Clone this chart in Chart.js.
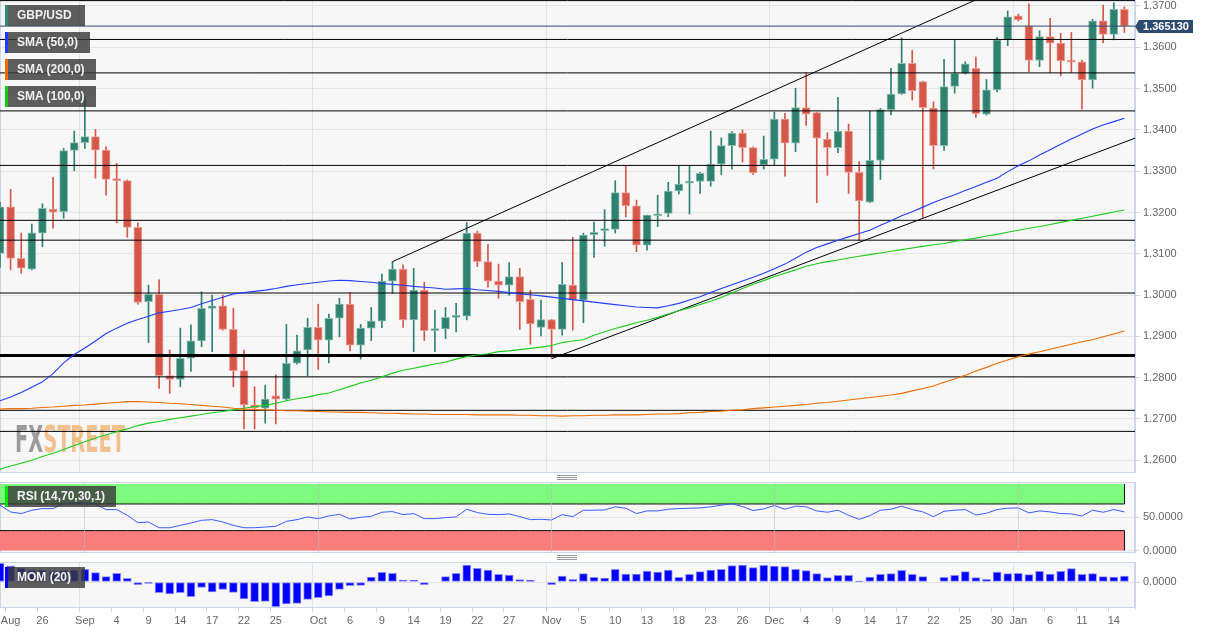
<!DOCTYPE html>
<html>
<head>
<meta charset="utf-8">
<title>GBP/USD daily</title>
<script src="https://cdn.jsdelivr.net/npm/chart.js@4.4.1/dist/chart.umd.min.js"></script>
<style>
html,body{margin:0;padding:0;background:#fff;}
body{position:relative;width:1212px;height:634px;overflow:hidden;font-family:Arial,"Liberation Sans",sans-serif;}
canvas{position:absolute;left:0;}
#main{top:0;} #rsi{top:482px;} #mom{top:562px;}
.tag{position:absolute;left:5px;height:21px;line-height:21px;padding-left:12px;box-sizing:border-box;background:rgba(58,58,58,0.82);color:#f2f2f2;font-size:12px;font-weight:bold;white-space:nowrap;}
.tag b{position:absolute;left:0;top:0;width:3px;height:21px;}
.grip{position:absolute;left:557px;width:20px;height:3px;border-top:1px solid #9a9a9a;border-bottom:1px solid #9a9a9a;}
.grip::after{content:"";position:absolute;left:0;right:0;top:1px;border-top:1px solid #9a9a9a;}
</style>
</head>
<body>
<canvas id="main" width="1212" height="473"></canvas>
<canvas id="rsi" width="1212" height="79"></canvas>
<canvas id="mom" width="1212" height="72"></canvas>
<div class="grip" style="top:475px"></div>
<div class="grip" style="top:555px"></div>
<div class="tag" style="top:5px;width:80px"><b style="background:#2e8b73"></b>GBP/USD</div>
<div class="tag" style="top:32px;width:85px"><b style="background:#1a3cff"></b>SMA (50,0)</div>
<div class="tag" style="top:59px;width:91px"><b style="background:#ef6c00"></b>SMA (200,0)</div>
<div class="tag" style="top:86px;width:91px"><b style="background:#14c814"></b>SMA (100,0)</div>
<div class="tag" style="top:486px;width:111px"><b style="background:#00e600"></b>RSI (14,70,30,1)</div>
<div class="tag" style="top:567px;width:80px"><b style="background:#0000ff"></b>MOM (20)</div>
<script>
// daily candles, 20 Aug 2020 .. 15 Jan 2021 (weekdays)
const opens = [1.3101,1.3214,1.3089,1.3063,1.3150,1.3208,1.3202,1.3350,1.3369,1.3384,
1.3351,1.3280,1.3277,1.3164,1.2984,1.3002,1.2805,1.2796,1.2847,1.2889,
1.2968,1.2974,1.2917,1.2817,1.2734,1.2726,1.2756,1.2748,1.2835,1.2867,
1.2922,1.2891,1.2944,1.2978,1.2879,1.2920,1.2937,1.3034,1.3063,1.2940,
1.3012,1.2914,1.2918,1.2946,1.2949,1.3150,1.3081,1.3034,1.3024,1.3045,
1.2990,1.2922,1.2941,1.2917,1.3024,1.2988,1.3146,1.3156,1.3159,1.3248,
1.3216,1.3121,1.3192,1.3198,1.3252,1.3271,1.3275,1.3275,1.3317,1.3362,
1.3392,1.3357,1.3315,1.3329,1.3426,1.3368,1.3454,1.3442,1.3378,1.3357,
1.3397,1.3297,1.3225,1.3326,1.3449,1.3487,1.3561,1.3517,1.3453,1.3362,
1.3505,1.3537,1.3549,1.3438,1.3497,1.3618,1.3676,1.3652,1.3568,1.3626,
1.3610,1.3567,1.3565,1.3521,1.3664,1.3631,1.3692];
const highs = [1.3225,1.3256,1.3150,1.3172,1.3221,1.3285,1.3355,1.3397,1.3480,1.3401,
1.3359,1.3319,1.3279,1.3175,1.3024,1.3037,1.2867,1.2920,1.2928,1.3008,
1.3000,1.3000,1.2968,1.2867,1.2778,1.2782,1.2807,1.2929,1.2903,1.2944,
1.2978,1.2954,1.2992,1.3006,1.2929,1.2970,1.3051,1.3081,1.3073,1.3065,
1.3031,1.2964,1.2970,1.2980,1.3176,1.3155,1.3123,1.3075,1.3079,1.3065,
1.3012,1.2988,1.2941,1.3079,1.3140,1.3150,1.3177,1.3207,1.3277,1.3314,
1.3230,1.3194,1.3242,1.3273,1.3313,1.3313,1.3297,1.3397,1.3381,1.3396,
1.3400,1.3359,1.3385,1.3443,1.3440,1.3501,1.3539,1.3443,1.3393,1.3479,
1.3414,1.3323,1.3445,1.3452,1.3549,1.3623,1.3593,1.3518,1.3468,1.3571,
1.3618,1.3565,1.3576,1.3522,1.3624,1.3688,1.3680,1.3705,1.3640,1.3670,
1.3634,1.3636,1.3569,1.3668,1.3702,1.3708,1.3698];
const lows = [1.3067,1.3061,1.3053,1.3061,1.3117,1.3162,1.3186,1.3301,1.3355,1.3283,
1.3242,1.3175,1.3140,1.2978,1.2885,1.2774,1.2762,1.2778,1.2815,1.2875,
1.2863,1.2915,1.2778,1.2676,1.2676,1.2690,1.2688,1.2745,1.2833,1.2805,
1.2820,1.2836,1.2899,1.2865,1.2845,1.2890,1.2921,1.3004,1.2922,1.2863,
1.2890,1.2863,1.2895,1.2911,1.2940,1.3069,1.3019,1.2992,1.3000,1.2917,
1.2881,1.2901,1.2848,1.2903,1.2915,1.2933,1.3091,1.3118,1.3150,1.3190,
1.3105,1.3109,1.3166,1.3190,1.3245,1.3196,1.3246,1.3264,1.3292,1.3305,
1.3322,1.3292,1.3305,1.3315,1.3288,1.3347,1.3411,1.3224,1.3290,1.3345,
1.3246,1.3132,1.3224,1.3280,1.3436,1.3486,1.3472,1.3188,1.3305,1.3350,
1.3489,1.3535,1.3430,1.3436,1.3492,1.3604,1.3664,1.3541,1.3553,1.3539,
1.3531,1.3539,1.3450,1.3501,1.3611,1.3618,1.3636];
const closes = [1.3214,1.3089,1.3065,1.3151,1.3210,1.3201,1.3350,1.3369,1.3384,1.3351,
1.3280,1.3277,1.3164,1.2982,1.3002,1.2805,1.2796,1.2847,1.2889,1.2968,
1.2974,1.2917,1.2817,1.2734,1.2727,1.2748,1.2748,1.2835,1.2865,1.2922,
1.2891,1.2944,1.2978,1.2879,1.2920,1.2937,1.3034,1.3063,1.2940,1.3012,
1.2914,1.2918,1.2946,1.2949,1.3150,1.3081,1.3034,1.3024,1.3045,1.2984,
1.2930,1.2941,1.2917,1.3026,1.2988,1.3145,1.3152,1.3159,1.3248,1.3216,
1.3121,1.3194,1.3196,1.3252,1.3269,1.3274,1.3295,1.3317,1.3362,1.3392,
1.3357,1.3296,1.3329,1.3426,1.3368,1.3454,1.3438,1.3380,1.3357,1.3397,
1.3297,1.3228,1.3326,1.3449,1.3487,1.3561,1.3495,1.3454,1.3362,1.3505,
1.3537,1.3560,1.3439,1.3497,1.3618,1.3674,1.3666,1.3568,1.3626,1.3610,
1.3567,1.3564,1.3521,1.3664,1.3631,1.3692,1.36513];

const sma50 = [1.2744,1.2753,1.2764,1.2777,1.2790,1.2810,1.2836,1.2856,1.2872,1.2889,
1.2907,1.2920,1.2932,1.2941,1.2949,1.2957,1.2961,1.2965,1.2970,1.2979,
1.2987,1.2995,1.3003,1.3006,1.3009,1.3012,1.3016,1.3021,1.3025,1.3028,
1.3031,1.3034,1.3036,1.3035,1.3033,1.3031,1.3028,1.3026,1.3024,1.3021,
1.3019,1.3017,1.3014,1.3015,1.3016,1.3013,1.3011,1.3009,1.3006,1.3003,
1.3001,1.2998,1.2995,1.2992,1.2989,1.2986,1.2983,1.2980,1.2977,1.2974,
1.2971,1.2970,1.2969,1.2974,1.2980,1.2988,1.2996,1.3006,1.3016,1.3025,
1.3034,1.3043,1.3053,1.3064,1.3075,1.3089,1.3104,1.3115,1.3124,1.3133,
1.3141,1.3149,1.3157,1.3169,1.3180,1.3192,1.3202,1.3213,1.3224,1.3234,
1.3243,1.3253,1.3263,1.3273,1.3283,1.3299,1.3313,1.3325,1.3339,1.3352,
1.3365,1.3378,1.3390,1.3402,1.3412,1.3420,1.3428];
const sma100 = [1.2578,1.2586,1.2593,1.2600,1.2609,1.2617,1.2626,1.2636,1.2645,1.2654,
1.2662,1.2669,1.2676,1.2684,1.2690,1.2694,1.2699,1.2703,1.2707,1.2711,
1.2715,1.2718,1.2722,1.2726,1.2730,1.2733,1.2738,1.2744,1.2749,1.2753,
1.2759,1.2763,1.2771,1.2779,1.2787,1.2794,1.2802,1.2811,1.2818,1.2823,
1.2828,1.2833,1.2838,1.2845,1.2851,1.2855,1.2858,1.2863,1.2865,1.2868,
1.2871,1.2874,1.2878,1.2885,1.2889,1.2892,1.2903,1.2911,1.2919,1.2926,
1.2933,1.2939,1.2946,1.2954,1.2962,1.2969,1.2977,1.2985,1.2994,1.3005,
1.3016,1.3026,1.3035,1.3045,1.3053,1.3061,1.3070,1.3076,1.3081,1.3085,
1.3090,1.3094,1.3098,1.3102,1.3106,1.3110,1.3114,1.3118,1.3122,1.3125,
1.3130,1.3134,1.3138,1.3143,1.3147,1.3152,1.3157,1.3162,1.3166,1.3171,
1.3176,1.3181,1.3186,1.3191,1.3196,1.3201,1.3206];
const sma200 = [1.2724,1.2725,1.2725,1.2726,1.2728,1.2729,1.2731,1.2733,1.2734,1.2736,
1.2738,1.2740,1.2742,1.2742,1.2741,1.2740,1.2738,1.2737,1.2735,1.2733,
1.2731,1.2729,1.2726,1.2724,1.2723,1.2722,1.2721,1.2720,1.2720,1.2719,
1.2718,1.2717,1.2717,1.2716,1.2716,1.2715,1.2714,1.2714,1.2713,1.2712,
1.2712,1.2711,1.2711,1.2711,1.2711,1.2710,1.2710,1.2710,1.2710,1.2709,
1.2709,1.2708,1.2708,1.2707,1.2708,1.2708,1.2709,1.2709,1.2710,1.2710,
1.2710,1.2711,1.2712,1.2712,1.2713,1.2715,1.2716,1.2718,1.2719,1.2721,
1.2722,1.2725,1.2727,1.2729,1.2731,1.2733,1.2735,1.2738,1.2740,1.2743,
1.2746,1.2749,1.2752,1.2755,1.2758,1.2762,1.2768,1.2774,1.2780,1.2789,
1.2797,1.2806,1.2816,1.2825,1.2835,1.2843,1.2851,1.2857,1.2863,1.2869,
1.2875,1.2881,1.2887,1.2892,1.2899,1.2906,1.2913];

const rsi = [68.2,58,55.6,60.6,63.1,63.1,70.7,72.2,72.2,69.7,
61.6,61.6,53,41.9,42.9,34.3,34.3,37.9,41.4,45.5,
46.5,42.9,37.9,34.3,34.3,35.4,36.4,43.9,46.5,50.5,
48,52,54.5,47.5,50,51.5,57.6,58.6,54,55.6,
48,48,49.5,50.5,62.1,57.1,54.5,54,55.1,51,
46.5,47,46,54,51,60.6,60.6,61.1,65.7,63.6,
55.6,59.6,59.6,62.1,63.1,63.6,64.1,65.7,68.2,70.2,
66.2,60.1,62.6,67.7,62.1,66.7,65.7,59.6,57.6,60.6,
53,47,52.5,60.6,62.1,66.7,61.6,58.1,51,59.1,
60.6,61.6,53.5,56.1,61.6,63.6,64.1,56.6,59.6,58.1,
55.6,55.1,52,60.6,57.6,61.6,58.1];
const mom = [0.0468,0.040,0.035,0.030,0.030,0.0275,0.0283,0.030,0.0318,0.0233,
0.0133,0.0218,0.0093,-0.0068,-0.0033,-0.0268,-0.030,-0.0268,-0.0368,-0.0133,
-0.025,-0.0183,-0.0258,-0.0425,-0.0493,-0.0488,-0.0618,-0.055,-0.0533,-0.0433,
-0.0393,-0.035,-0.0183,-0.0093,-0.0083,0.0125,0.0243,0.0218,0.005,0.005,
-0.0068,0,0.0133,0.0218,0.0425,0.0343,0.030,0.0193,0.0175,0.0058,
0.0043,0,-0.0068,0.015,0.0068,0.0208,0.0118,0.010,0.0318,0.020,
0.020,0.0275,0.025,0.030,0.0118,0.0193,0.0258,0.030,0.0318,0.0408,
0.0425,0.0358,0.0418,0.040,0.0383,0.0318,0.0283,0.0208,0.0108,0.0168,
0.0168,0.0025,0.0125,0.0193,0.0208,0.0293,0.0193,0.0133,0,0.0118,
0.0168,0.0258,0.0108,0.0068,0.025,0.0208,0.0218,0.0183,0.0268,0.020,
0.0268,0.0333,0.0193,0.0208,0.0133,0.0125,0.015];

// support / resistance levels drawn across the chart
const levels = [1.3713, 1.3619, 1.3538, 1.3446, 1.3314, 1.3181, 1.3133, 1.3005, 1.2802, 1.2721, 1.2670];
const keyLevel = 1.2854;
// channel lines: [start bar, start price, end price at right edge]
const channelTop = [37, 1.3081, 1.3888];
const channelBottom = [52, 1.2846, 1.3380];

const tickAt   = [1,4,8,11,14,17,20,23,26,30,33,36,39,42,45,48,52,55,58,61,64,67,70,73,76,79,82,85,88,91,94,96,99,102,105];
const tickText = ['Aug','26','Sep','4','9','14','17','22','25','Oct','6','9','14','19','22','27','Nov','5','10','13','18','23','26','Dec','4','9','14','17','22','25','30','Jan','6','11','14'];
const monthBars = [8, 30, 52, 73, 96];
const priceTicks = [1.26,1.27,1.28,1.29,1.30,1.31,1.32,1.33,1.34,1.35,1.36,1.37];
const rsiTicks = [0, 50];
const momTicks = [0];
const rsiHigh = 70, rsiLow = 30;

const N = closes.length;
const labels = Array.from({length: N + 1}, () => '');
tickAt.forEach((b, k) => { labels[b] = tickText[k]; });
const last = closes[N - 1];

const GREEN = '#2f8170', RED = '#d5574a';
const up = closes.map((c, i) => c >= opens[i]);

Chart.defaults.font.family = 'Arial, "Liberation Sans", sans-serif';
Chart.defaults.font.size = 11;
Chart.defaults.color = '#666';

function segment(from, v0, to, v1) {
  const d = labels.map(() => null);
  d[from] = v0; d[to] = v1;
  return d;
}
function lineSet(data, color, width, order) {
  return { type: 'line', data: data, borderColor: color, borderWidth: width, pointRadius: 0,
           spanGaps: true, tension: 0, fill: false, order: order };
}
// axisH: height kept below the plot (labels on the bottom panel only)
function xScale(showLabels, gridOnTop, axisH) {
  return {
    type: 'category', offset: false,
    grid: {
      color: c => monthBars.includes(c.index) ? (gridOnTop ? 'rgba(190,190,190,0.55)' : '#e3e3e3') : 'rgba(0,0,0,0)',
      drawTicks: showLabels, tickLength: 4,
      tickColor: c => labels[c.index] ? '#ccd6eb' : 'rgba(0,0,0,0)',
      z: gridOnTop ? 1 : 0
    },
    border: { display: false },
    ticks: { display: showLabels, autoSkip: false, maxRotation: 0, minRotation: 0, padding: 2, color: '#666',
             callback: (v, i) => labels[i] },
    afterFit: s => { s.height = axisH; s.paddingLeft = 0; s.paddingRight = 0; }
  };
}
function yScale(min, max, ticks, digits) {
  return {
    position: 'right', min: min, max: max,
    afterBuildTicks: s => { s.ticks = ticks.map(v => ({ value: v })); },
    grid: { color: '#e6e6e6', tickLength: 5, tickColor: '#ccd6eb' },
    border: { display: true, color: '#ccd6eb' },
    ticks: { padding: 3, color: '#666', callback: v => Number(v).toFixed(digits) },
    afterFit: s => { s.width = 77; s.paddingTop = 0; s.paddingBottom = 0; }
  };
}

const panel = {
  id: 'panel',
  beforeDraw(c) {
    const a = c.chartArea, ctx = c.ctx;
    ctx.save();
    ctx.fillStyle = '#f7f7f7';
    ctx.fillRect(a.left, a.top, a.right - a.left, a.bottom - a.top);
    ctx.restore();
  },
  beforeDatasetsDraw(c) {
    const a = c.chartArea, ctx = c.ctx;
    ctx.save();
    ctx.strokeStyle = '#ccd6eb';
    ctx.lineWidth = 1;
    ctx.strokeRect(a.left + 0.5, a.top + 0.5, a.right - a.left - 1, a.bottom - a.top - 1);
    if (c.canvas.id === 'main') {
      // FXSTREET watermark under the plot
      ctx.font = 'bold 37px "DejaVu Sans Condensed", "DejaVu Sans", sans-serif';
      ctx.textBaseline = 'alphabetic';
      const w1 = ctx.measureText('FX').width, w2 = ctx.measureText('STREET').width;
      const k = 110 / (w1 + w2);
      ctx.translate(15, 452);
      ctx.scale(k, 1);
      ctx.fillStyle = '#9b9b9b';
      ctx.fillText('FX', 0, 0);
      ctx.fillStyle = '#f2c08c';
      ctx.fillText('STREET', w1, 0);
    }
    ctx.restore();
  }
};

const priceTag = {
  id: 'priceTag',
  afterDraw(c) {
    const ctx = c.ctx, x0 = c.chartArea.right;
    const y = Math.round(c.scales.y.getPixelForValue(last)) + 0.5;
    ctx.save();
    ctx.fillStyle = '#2d4b70';
    ctx.beginPath();
    ctx.moveTo(x0, y);
    ctx.lineTo(x0 + 4, y - 6.5);
    ctx.lineTo(x0 + 58, y - 6.5);
    ctx.lineTo(x0 + 58, y + 6.5);
    ctx.lineTo(x0 + 4, y + 6.5);
    ctx.closePath();
    ctx.fill();
    ctx.fillStyle = '#ffffff';
    ctx.font = 'bold 11px Arial, "Liberation Sans", sans-serif';
    ctx.textAlign = 'center';
    ctx.textBaseline = 'middle';
    ctx.fillText(last.toFixed(6), x0 + 31, y + 0.5);
    ctx.restore();
  }
};

const bandEdge = {
  id: 'bandEdge',
  afterDatasetsDraw(c) {
    const ctx = c.ctx, sy = c.scales.y;
    const x = Math.round(c.scales.x.getPixelForValue(N - 1)) + 0.5;
    ctx.save();
    ctx.strokeStyle = '#111';
    ctx.lineWidth = 1;
    ctx.beginPath();
    ctx.moveTo(x, sy.getPixelForValue(100)); ctx.lineTo(x, sy.getPixelForValue(rsiHigh));
    ctx.moveTo(x, sy.getPixelForValue(rsiLow)); ctx.lineTo(x, sy.getPixelForValue(0));
    ctx.stroke();
    ctx.restore();
  }
};

const common = { responsive: false, animation: false, events: [],
  layout: { padding: 0, autoPadding: false },
  plugins: { legend: { display: false }, tooltip: { enabled: false } } };

// ---- price panel ----
const mainSets = [];
levels.forEach(v => mainSets.push(lineSet(segment(0, v, N, v), '#000', 1, 1)));
mainSets.push(lineSet(segment(0, keyLevel, N, keyLevel), '#000', 3, 1));
mainSets.push(lineSet(segment(0, last, N, last), '#2d4b70', 1, 1));
mainSets.push(lineSet(segment(channelTop[0], channelTop[1], N, channelTop[2]), '#000', 1, 1));
mainSets.push(lineSet(segment(channelBottom[0], channelBottom[1], N, channelBottom[2]), '#000', 1, 1));
mainSets.push(lineSet(sma200, '#ef6c00', 1.1, 0));
mainSets.push(lineSet(sma100, '#1ccc1c', 1.1, 0));
mainSets.push(lineSet(sma50, '#1f3cff', 1.1, 0));
mainSets.push({
  type: 'bar', data: opens.map((o, i) => [o, closes[i]]), grouped: false, order: 8,
  barThickness: 8, minBarLength: 2, borderWidth: 1, borderSkipped: false,
  backgroundColor: up.map(u => u ? GREEN : RED),
  borderColor: up.map(u => u ? '#88bcaf' : '#eca197')
});
mainSets.push({
  type: 'bar', data: lows.map((l, i) => [l, highs[i]]), grouped: false, order: 9,
  barThickness: 1, borderWidth: 0,
  backgroundColor: up.map(u => u ? GREEN : RED)
});

const yMax = 1.37145, pxPerUnit = 1 / 0.00024213;
new Chart(document.getElementById('main'), {
  type: 'bar',
  data: { labels: labels, datasets: mainSets },
  options: Object.assign({}, common, {
    scales: { x: xScale(false, false, 0), y: yScale(yMax - 473 / pxPerUnit, yMax, priceTicks, 4) }
  }),
  plugins: [panel, priceTag]
});

// ---- RSI panel ----
new Chart(document.getElementById('rsi'), {
  type: 'line',
  data: { labels: labels, datasets: [
    lineSet(rsi, '#3a5cff', 1, 0),
    Object.assign(lineSet(rsi.map(() => rsiHigh), '#0d0d0d', 1, 2), { fill: { target: { value: 100 } }, backgroundColor: '#7dfa7d' }),
    Object.assign(lineSet(rsi.map(() => rsiLow), '#0d0d0d', 1, 2), { fill: { target: { value: 0 } }, backgroundColor: '#fa7d7d' })
  ] },
  options: Object.assign({}, common, {
    scales: { x: xScale(false, true, 8), y: yScale(-3.6, 103, rsiTicks, 4) }
  }),
  plugins: [panel, bandEdge]
});

// ---- Momentum panel ----
new Chart(document.getElementById('mom'), {
  type: 'bar',
  data: { labels: labels, datasets: [{
    data: mom, backgroundColor: '#0000ff', borderColor: '#8c8cff', borderWidth: 1,
    barThickness: 8, borderSkipped: false
  }] },
  options: Object.assign({}, common, {
    scales: { x: xScale(true, false, 26), y: yScale(-0.065, 0.05, momTicks, 4) }
  }),
  plugins: [panel]
});
</script>
</body>
</html>
